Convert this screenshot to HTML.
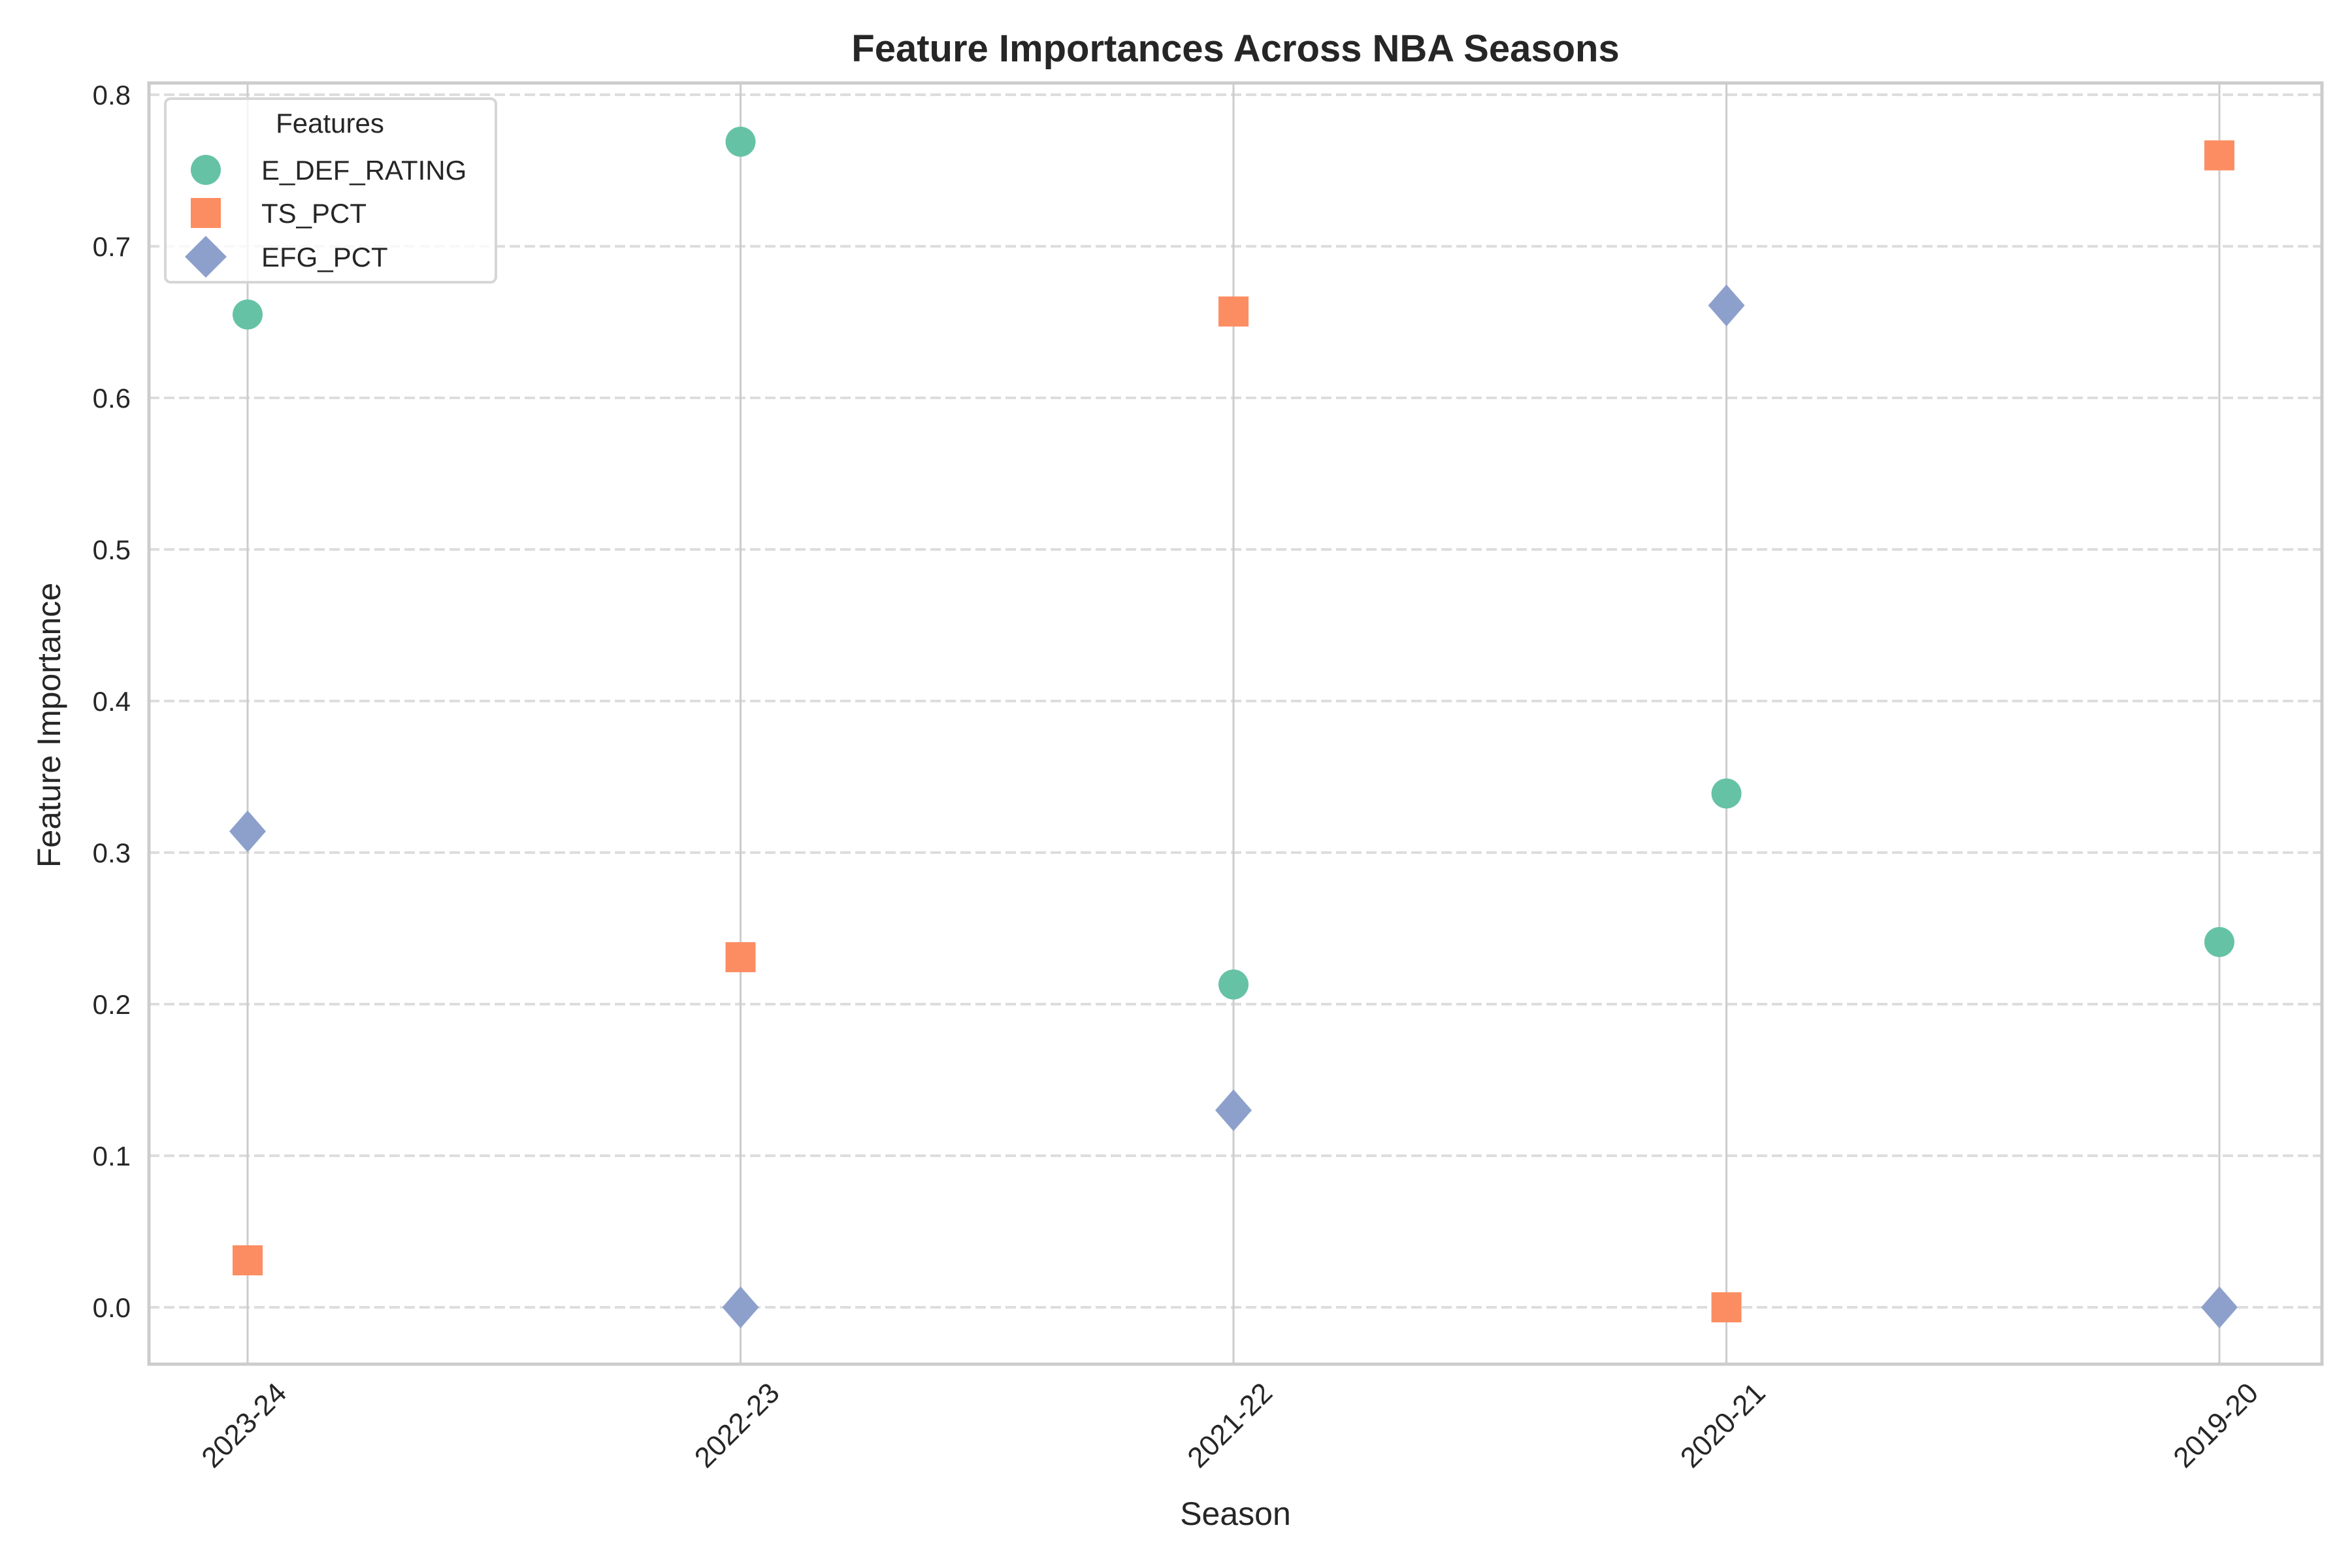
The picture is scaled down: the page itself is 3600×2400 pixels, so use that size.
<!DOCTYPE html>
<html><head><meta charset="utf-8"><style>
html,body{margin:0;padding:0;background:#fff;}
svg{display:block;font-family:"Liberation Sans",Arial,sans-serif;}
</style></head><body>
<svg id="chart" width="3600" height="2400" viewBox="0 0 3600 2400">
<rect width="3600" height="2400" fill="#fff"/>
<text x="1891" y="94" font-size="58" font-weight="bold" text-anchor="middle" fill="#262626">Feature Importances Across NBA Seasons</text>
<g id="grid"></g>
<g id="marks"></g>
<rect x="228" y="127" width="3326" height="1961" fill="none" stroke="#cccccc" stroke-width="5"/>
<g id="ticks"></g>
<text x="1891" y="2334" font-size="50" text-anchor="middle" fill="#262626">Season</text>
<text transform="translate(92,1110) rotate(-90)" font-size="50" text-anchor="middle" fill="#262626">Feature Importance</text>
<g>
<rect x="253" y="151" width="506" height="281" rx="8" fill="#fff" fill-opacity="0.8" stroke="#d6d6d6" stroke-width="4"/>
<text x="505" y="203" font-size="42" text-anchor="middle" fill="#262626">Features</text>
<g><ellipse cx="315" cy="260" rx="23" ry="23" fill="#66c2a5"/><text x="400" y="275" font-size="42" fill="#262626">E_DEF_RATING</text></g>
<g><rect x="292" y="303" width="46" height="46" fill="#fc8d62"/><text x="400" y="341" font-size="42" fill="#262626">TS_PCT</text></g>
<g><polygon points="315,361 347,393 315,425 283,393" fill="#8da0cb"/><text x="400" y="408" font-size="42" fill="#262626">EFG_PCT</text></g>
</g>
</svg>
<script>
const seasons = ["2023-24","2022-23","2021-22","2020-21","2019-20"];
const eDefRating = [0.655,0.769,0.213,0.339,0.241];
const tsPct = [0.031,0.231,0.657,0.0,0.760];
const efgPct = [0.314,0.0,0.130,0.661,0.0];
const yTicks = [0.0,0.1,0.2,0.3,0.4,0.5,0.6,0.7,0.8];

const NS="http://www.w3.org/2000/svg";
function xs(i){return 379+i*(3397-379)/(seasons.length-1);}
function ys(v){return 2001-v*(2001-145)/0.8;}
function mk(tag,attrs,parent){const e=document.createElementNS(NS,tag);for(const k in attrs)e.setAttribute(k,attrs[k]);parent.appendChild(e);return e;}
const grid=document.getElementById('grid'),marks=document.getElementById('marks'),ticks=document.getElementById('ticks');
yTicks.forEach(v=>{
  const l=mk('line',{x1:228,x2:3554,y1:ys(v),y2:ys(v),stroke:'#dddddd','stroke-width':4,'stroke-dasharray':'16,7'},grid);
  
  
  const t=mk('text',{x:200,y:ys(v)+15,'font-size':42,'text-anchor':'end',fill:'#262626'},ticks);
  t.textContent=v.toFixed(1);
  
  
});
seasons.forEach((s,i)=>{
  const l=mk('line',{x1:xs(i),x2:xs(i),y1:127,y2:2088,stroke:'#cccccc','stroke-width':3},grid);
  
  
  const t=mk('text',{transform:`translate(${xs(i)+62},2135) rotate(-45)`,'font-size':44,'text-anchor':'end',fill:'#262626'},ticks);
  t.textContent=s;
  
  
});
eDefRating.forEach((v,i)=>{
  const c=mk('circle',{cx:xs(i),cy:ys(v),r:23,fill:'#66c2a5'},marks);
  
  
});
tsPct.forEach((v,i)=>{
  const r=mk('rect',{x:xs(i)-23,y:ys(v)-23,width:46,height:46,fill:'#fc8d62'},marks);
  
  
});
efgPct.forEach((v,i)=>{
  const x=xs(i),y=ys(v);
  const p=mk('polygon',{points:`${x},${y-32} ${x+28},${y} ${x},${y+32} ${x-28},${y}`,fill:'#8da0cb'},marks);
  
  
});
</script>
</body></html>
